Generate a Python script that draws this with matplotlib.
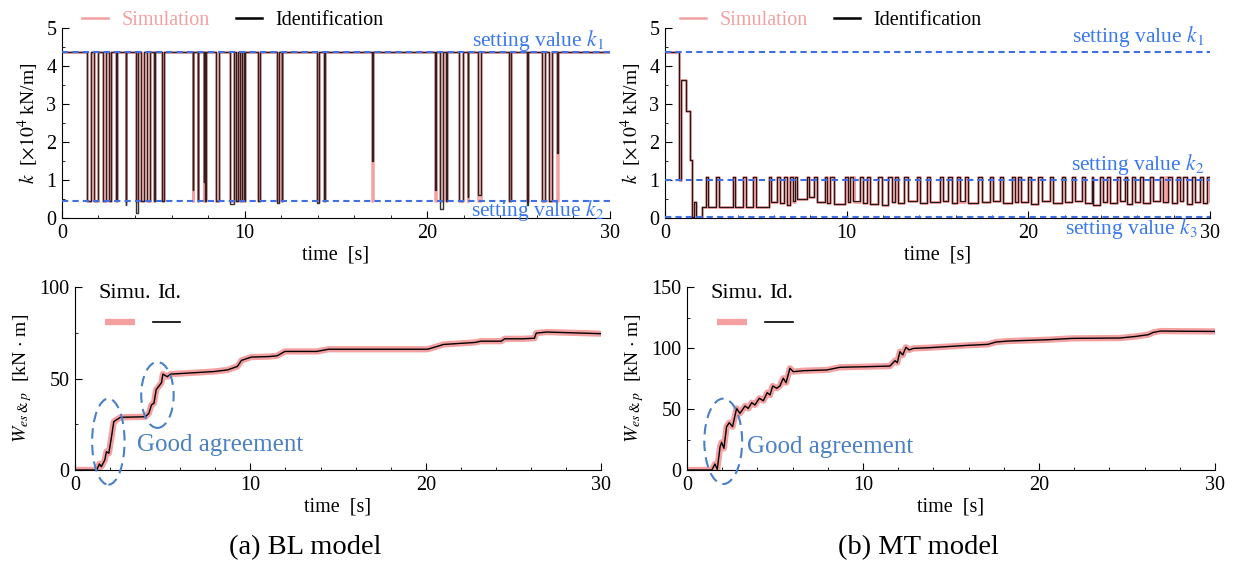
import matplotlib
matplotlib.use("Agg")
import matplotlib.pyplot as plt
from matplotlib.lines import Line2D
from matplotlib.patches import Ellipse
from matplotlib.ticker import MultipleLocator

plt.rcParams["font.family"] = ["Liberation Serif", "DejaVu Serif"]
plt.rcParams["mathtext.fontset"] = "stix"
plt.rcParams["xtick.direction"] = "in"
plt.rcParams["ytick.direction"] = "in"

PINK = "#f4a0a0"
BLUE = "#3f6fe0"
TXT_BLUE = "#3a78f0"
ELL_BLUE = "#4a80c4"

# setting values [x10^4 kN/m]
BL_K1, BL_K2 = 4.38, 0.45
MT_K1, MT_K2, MT_K3 = 4.38, 1.0, 0.02

# BL model: intervals where k drops from k1 to k2 (start, end) and the low level of the identification
bl_t0 = [1.39, 1.78, 2.26, 2.55, 2.96, 3.50, 4.07, 4.31, 4.66, 5.05, 5.48, 7.16, 7.44, 7.76, 7.84,
         8.42, 9.18, 9.51, 9.75, 9.96, 10.75, 11.79, 12.03, 13.97, 14.34, 17.00, 20.42, 20.70,
         21.02, 21.73, 22.22, 22.80, 24.47, 25.48, 26.30, 26.68, 27.12]
bl_t1 = [1.61, 2.00, 2.39, 2.70, 2.99, 3.53, 4.18, 4.50, 4.83, 5.08, 5.59, 7.19, 7.47, 7.80, 7.88,
         8.59, 9.40, 9.62, 9.88, 10.00, 10.83, 11.90, 12.07, 14.07, 14.38, 17.03, 20.45, 20.88,
         21.06, 21.95, 22.25, 22.95, 24.58, 25.51, 26.47, 26.80, 27.15]
bl_id_low = [0.45, 0.45, 0.45, 0.45, 0.45, 0.35, 0.12, 0.45, 0.45, 0.45, 0.45, 0.75, 0.45, 0.95, 0.45,
             0.45, 0.38, 0.45, 0.45, 0.45, 0.45, 0.40, 0.45, 0.40, 0.45, 1.50, 0.75, 0.25,
             0.45, 0.45, 0.55, 0.60, 0.45, 0.35, 0.45, 0.45, 1.70]

# MT model: initial transient (switch time, value), then pulses to the high level
mt_init_t = [0.0, 0.78, 0.88, 1.15, 1.35, 1.48, 1.60, 1.72, 2.05]
mt_init_k = [4.38, 1.00, 3.62, 2.82, 1.52, 0.02, 0.42, 0.02, 0.28]
MT_HIGH = 1.07
mt_on = [2.26, 2.81, 3.72, 4.31, 4.86, 5.71, 6.18, 6.55, 6.88, 7.17, 7.80, 8.20, 8.81, 9.08,
         9.91, 10.18, 10.73, 11.10, 11.74, 12.29, 12.66, 13.17, 13.85, 14.40, 15.13, 15.59,
         16.05, 16.51, 17.24, 17.89, 18.44, 19.08, 19.41, 20.00, 20.55, 21.19, 21.83, 22.38,
         22.93, 23.48, 23.94, 24.31, 24.86, 25.32, 25.69, 26.14, 26.69, 27.24, 27.70, 28.16,
         28.52, 28.99, 29.44, 29.85]
mt_off = [2.38, 2.99, 3.87, 4.46, 4.99, 5.85, 6.33, 6.73, 7.06, 7.28, 7.94, 8.35, 8.93, 9.30,
          10.09, 10.36, 10.88, 11.28, 11.92, 12.48, 12.84, 13.36, 14.03, 14.58, 15.32, 15.78,
          16.24, 16.70, 17.43, 18.07, 18.62, 19.26, 19.59, 20.15, 20.73, 21.37, 22.01, 22.56,
          23.11, 23.57, 24.12, 24.49, 25.04, 25.41, 25.87, 26.33, 26.87, 27.39, 27.88, 28.34,
          28.71, 29.17, 29.63, 30.00]
mt_low = [0.28, 0.28, 0.28, 0.28, 0.30, 0.42, 0.40, 0.33, 0.45, 0.50,
          0.55, 0.42, 0.40, 0.38, 0.42, 0.44, 0.40, 0.36, 0.33, 0.42,
          0.40, 0.44, 0.40, 0.42, 0.44, 0.40, 0.45, 0.40, 0.42, 0.44,
          0.40, 0.43, 0.42, 0.36, 0.45, 0.40, 0.42, 0.44, 0.40, 0.34,
          0.42, 0.40, 0.44, 0.38, 0.42, 0.40, 0.44, 0.42, 0.40, 0.44,
          0.38, 0.42, 0.40, 0.45]
# short pulses that only show in the simulation
mt_sim_on = [7.00, 10.38, 16.12, 27.55]
mt_sim_off = [7.05, 10.42, 16.16, 27.62]

# accumulated energy W_es&p [kN m]
bl_wt = [0, 1.24, 1.39, 1.50, 1.70, 1.79, 1.93, 2.11, 2.21, 2.34, 2.59, 4.02, 4.21, 4.36, 4.50,
         4.63, 4.78, 4.93, 5.01, 5.26, 5.45, 7.91, 8.70, 9.26, 9.49, 10.05, 11.07, 11.52, 11.97,
         13.78, 14.46, 20.10, 20.78, 21.00, 22.80, 23.15, 24.30, 24.50, 25.50, 26.20, 26.30,
         26.90, 30.0]
bl_w = [0, 0, 3.3, 1.8, 5.5, 10.0, 9.2, 20.0, 26.4, 27.3, 28.8, 29.1, 31.0, 35.6, 36.5,
        44.0, 45.8, 47.7, 52.4, 51.0, 52.4, 53.8, 54.7, 56.6, 59.9, 61.7, 62.0, 62.4, 64.8,
        64.8, 66.0, 66.0, 67.9, 68.6, 69.7, 70.4, 70.4, 71.7, 71.7, 72.0, 74.8,
        75.4, 74.5]
mt_wt = [0, 1.41, 1.59, 1.72, 1.88, 1.97, 2.10, 2.25, 2.40, 2.59, 2.82, 3.01, 3.30, 3.48,
         3.68, 3.86, 4.11, 4.34, 4.56, 4.72, 4.87, 5.10, 5.28, 5.47, 5.63, 5.85, 6.04, 6.61,
         7.94, 8.69, 10.20, 11.53, 11.82, 11.95, 12.10, 12.26, 12.44, 12.63, 12.86, 13.81,
         15.97, 17.10, 17.55, 18.24, 20.50, 21.90, 24.60, 25.50, 26.20, 26.50, 26.90, 30.0]
mt_w = [0, 0, 4.9, 0.5, 19.0, 22.7, 17.8, 35.5, 38.8, 35.5, 50.5, 46.4, 52.5, 50.5,
        55.2, 53.3, 58.8, 56.8, 63.4, 61.5, 68.9, 67.0, 68.9, 75.2, 71.6, 83.4, 80.6, 81.4,
        82.0, 84.2, 84.7, 85.2, 89.6, 88.0, 97.0, 94.3, 100.6, 98.4, 99.7, 100.3,
        102.2, 103.0, 104.9, 105.7, 106.8, 107.9, 108.2, 109.5, 110.9, 112.8, 113.9, 113.6]


def bl_steps(lows):
    x, y = [0.0], [BL_K1]
    for a, b, lo in zip(bl_t0, bl_t1, lows):
        x += [a, a, b, b]
        y += [BL_K1, lo, lo, BL_K1]
    return x + [30.0], y + [BL_K1]


def mt_steps(on, off):
    x, y = [], []
    for i, (t, k) in enumerate(zip(mt_init_t, mt_init_k)):
        if i:
            x.append(t)
            y.append(y[-1])
        x.append(t)
        y.append(k)
    low = mt_init_k[-1]
    lows = mt_low + [0.42] * (len(on) - len(mt_low))
    for a, b, lo in sorted(zip(on, off, lows)):
        x += [a, a, b, b]
        y += [low, MT_HIGH, MT_HIGH, lo]
        low = lo
    return x, y


def style_axes(ax, ymax, ymajor, yminor, xlabel):
    ax.set_xlim(0, 30)
    ax.set_ylim(0, ymax)
    ax.xaxis.set_major_locator(MultipleLocator(10))
    ax.xaxis.set_minor_locator(MultipleLocator(2))
    ax.yaxis.set_major_locator(MultipleLocator(ymajor))
    ax.yaxis.set_minor_locator(MultipleLocator(yminor))
    ax.spines["top"].set_visible(False)
    ax.spines["right"].set_visible(False)
    ax.tick_params(which="major", length=5, labelsize=14.5, pad=4)
    ax.tick_params(which="minor", length=2.5)
    ax.set_xlabel(xlabel, fontsize=14.5, labelpad=2)


fig = plt.figure(figsize=(12.34, 5.66), dpi=100)
ax1 = fig.add_axes([0.0502, 0.6148, 0.4441, 0.3357])
ax2 = fig.add_axes([0.5389, 0.6148, 0.4417, 0.3357])
ax3 = fig.add_axes([0.0608, 0.1696, 0.4263, 0.3233])
ax4 = fig.add_axes([0.5567, 0.1696, 0.4279, 0.3233])

# ---- (a) top: stiffness, BL model
xs, ys = bl_steps([BL_K2] * len(bl_t0))
xi, yi = bl_steps(bl_id_low)
ax1.plot(xs, ys, color=PINK, lw=1.8, zorder=2)
ax1.plot(xi, yi, color="black", lw=1.0, alpha=0.8, zorder=3)
for k in (BL_K1, BL_K2):
    ax1.axhline(k, color=BLUE, ls=(0, (3, 2)), lw=1.5, zorder=4)
ax1.text(29.7, 4.66, "setting value $k_1$", color=TXT_BLUE, fontsize=15.5, ha="right", va="center")
ax1.text(29.7, 0.2, "setting value $k_2$", color=TXT_BLUE, fontsize=15.5, ha="right", va="center")

# ---- (b) top: stiffness, MT model
xs, ys = mt_steps(mt_on + mt_sim_on, mt_off + mt_sim_off)
xi, yi = mt_steps(mt_on, mt_off)
ax2.plot(xs, ys, color=PINK, lw=2.0, zorder=2)
ax2.plot(xi, yi, color="black", lw=0.9, alpha=0.85, zorder=3)
for k in (MT_K1, MT_K2, MT_K3):
    ax2.axhline(k, color=BLUE, ls=(0, (3, 2)), lw=1.5, zorder=4)
ax2.text(29.7, 4.78, "setting value $k_1$", color=TXT_BLUE, fontsize=15.5, ha="right", va="center")
ax2.text(29.7, 1.40, "setting value $k_2$", color=TXT_BLUE, fontsize=15.5, ha="right", va="center")
ax2.text(29.3, -0.27, "setting value $k_3$", color=TXT_BLUE, fontsize=15.5, ha="right", va="center",
         clip_on=False)

for ax, xoff in ((ax1, 20 / 548), (ax2, 15 / 545)):
    style_axes(ax, 5, 1, 0.5, "time  [s]")
    ax.set_ylabel(r"$k$  [$\times 10^4$ kN/m]", fontsize=14, labelpad=4)
    handles = [Line2D([], [], color=PINK, lw=1.8), Line2D([], [], color="black", lw=1.8)]
    leg = ax.legend(handles, ["Simulation", "Identification"], ncol=2, loc="lower left",
                    bbox_to_anchor=(xoff, 0.99), frameon=False, fontsize=14.5,
                    handlelength=1.3, handletextpad=0.65, columnspacing=1.3,
                    borderpad=0, borderaxespad=0)
    leg.get_texts()[0].set_color(PINK)

# ---- bottom: accumulated energy
for ax, t, w, ymax in ((ax3, bl_wt, bl_w, 100), (ax4, mt_wt, mt_w, 150)):
    ax.plot(t, w, color=PINK, lw=4.5, solid_capstyle="butt", zorder=2)
    ax.plot(t, w, color="black", lw=1.0, zorder=3)
    style_axes(ax, ymax, 50, 25, "time  [s]")
    ax.set_ylabel(r"$W_{es\;&\;p}$  [kN $\cdot$ m]", fontsize=14, labelpad=4)
    ax.text(0.044, 0.967, "Simu.", transform=ax.transAxes, fontsize=16, va="center")
    ax.text(0.156, 0.967, "Id.", transform=ax.transAxes, fontsize=16, va="center")
    ax.plot([0.057, 0.114], [0.809, 0.809], transform=ax.transAxes, color=PINK, lw=4.5,
            solid_capstyle="butt")
    ax.plot([0.148, 0.2], [0.809, 0.809], transform=ax.transAxes, color="black", lw=1.2)

for cx, cy, ew, eh in ((1.9, 15.5, 1.85, 47), (4.7, 41, 1.85, 36)):
    ax3.add_patch(Ellipse((cx, cy), ew, eh, fill=False, ec=ELL_BLUE, ls=(0, (5, 3)), lw=1.5,
                          clip_on=False, zorder=5))
ax4.add_patch(Ellipse((2.06, 23.5), 2.15, 70, fill=False, ec=ELL_BLUE, ls=(0, (5, 3)), lw=1.5,
                      clip_on=False, zorder=5))
ax3.text(3.55, 13.7, "Good agreement", color=ELL_BLUE, fontsize=18, va="center")
ax4.text(3.42, 18.9, "Good agreement", color=ELL_BLUE, fontsize=18, va="center")

fig.text(0.2472, 0.032, "(a) BL model", fontsize=20.5, ha="center", va="center")
fig.text(0.7440, 0.032, "(b) MT model", fontsize=20.5, ha="center", va="center")

fig.savefig("out.png", dpi=100)
